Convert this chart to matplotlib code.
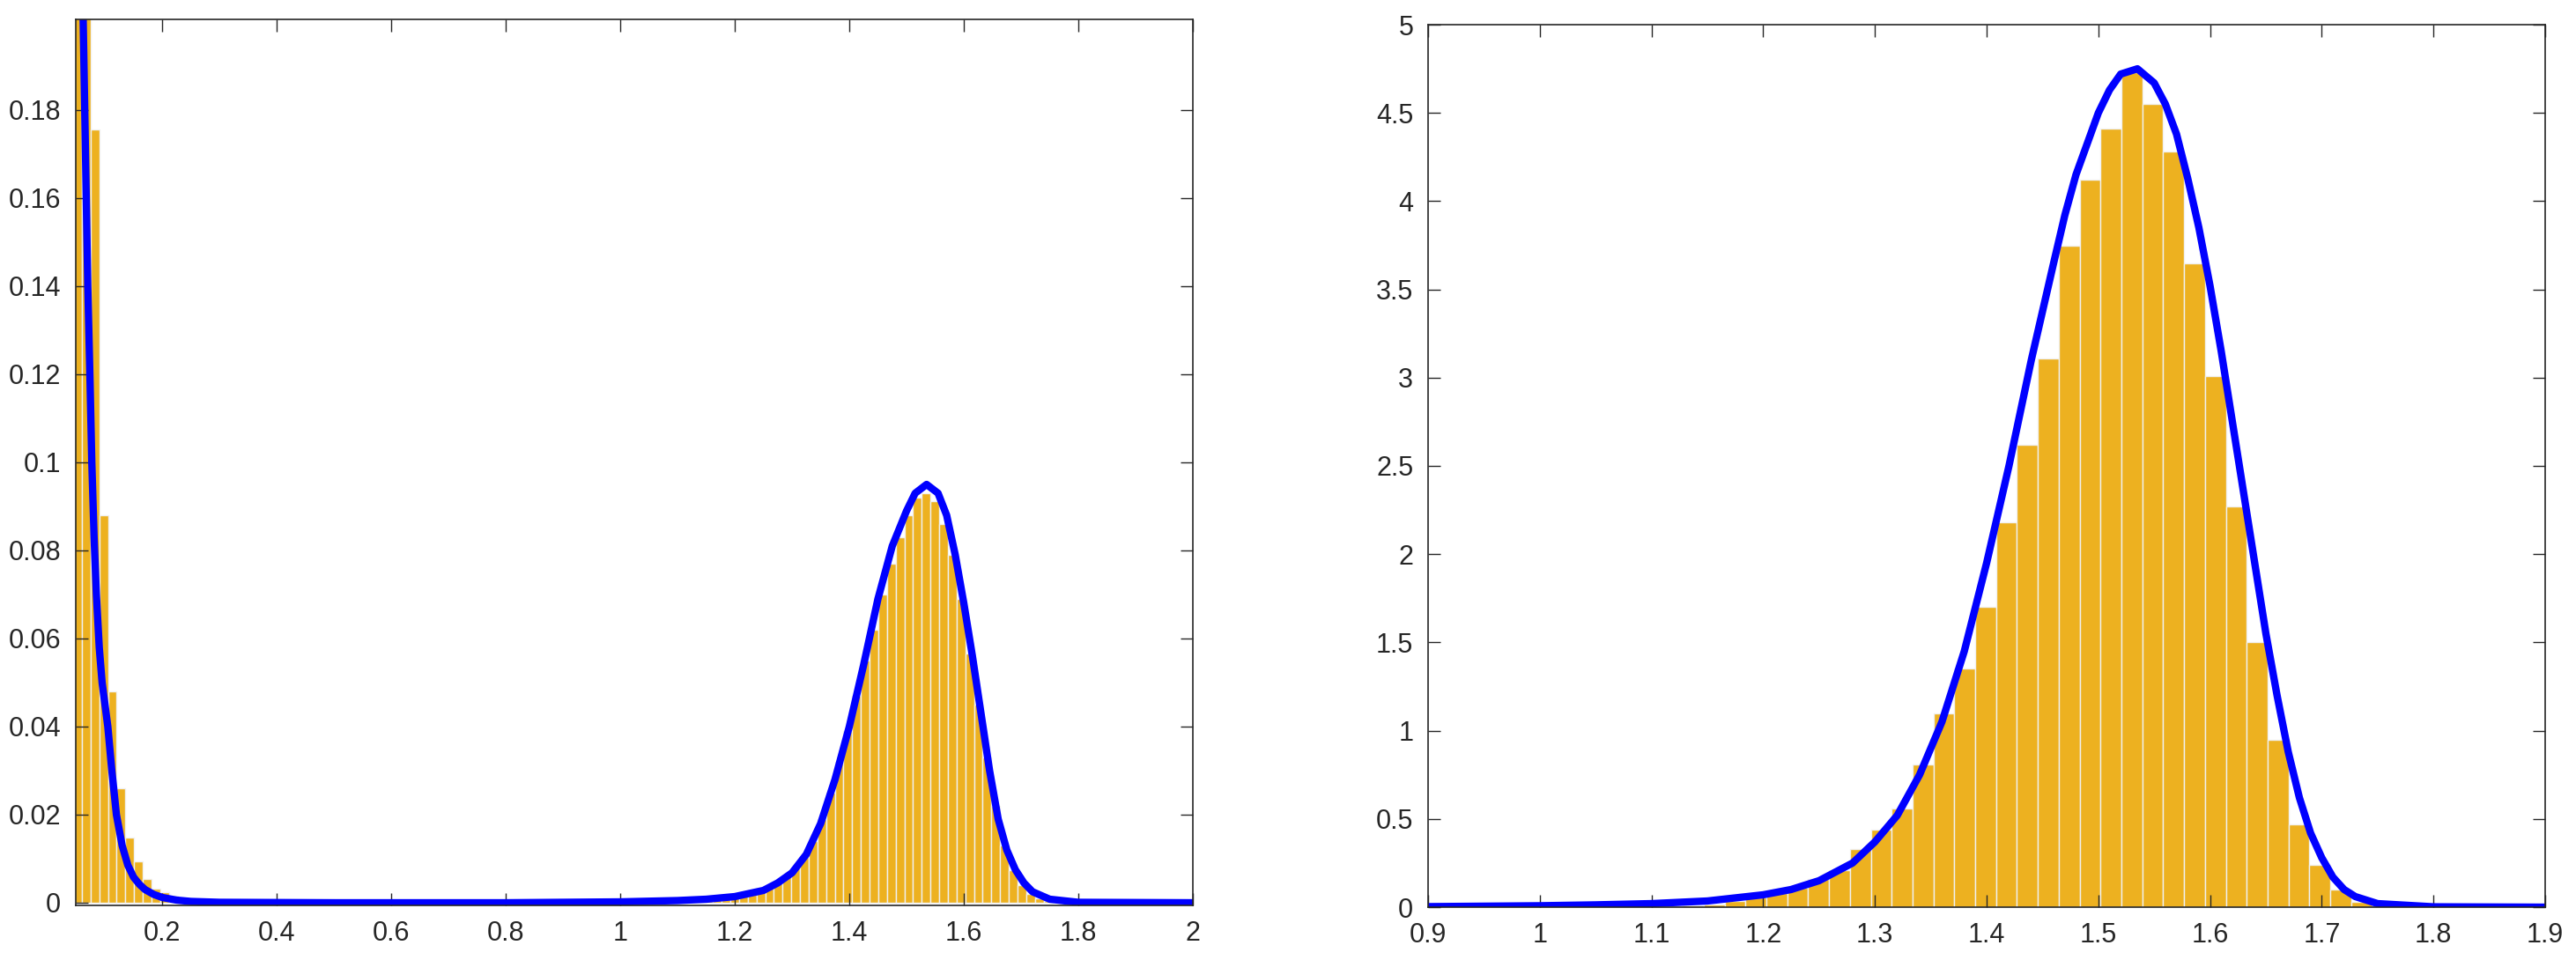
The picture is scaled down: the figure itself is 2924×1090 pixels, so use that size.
import matplotlib
matplotlib.use("Agg")
import matplotlib.pyplot as plt
import numpy as np
from matplotlib.ticker import FuncFormatter

# ---- Left panel data ----
left_bin_width = 0.0152
left_low_edges = [0.0445, 0.0597, 0.0749, 0.0901, 0.1053, 0.1205, 0.1357, 0.1509,
                  0.1661, 0.1813, 0.1965, 0.2117, 0.2269, 0.2421, 0.2573]
left_low_heights = [0.25, 0.23, 0.1757, 0.088, 0.048, 0.026, 0.0149, 0.0095,
                    0.0055, 0.0033, 0.0025, 0.0017, 0.001, 0.0006, 0.0003]
left_peak_start = 1.0858
left_peak_heights = [0.0004, 0.0005, 0.0006, 0.0007, 0.0008, 0.001, 0.0012, 0.0015,
                     0.0019, 0.0024, 0.003, 0.0038, 0.0048, 0.0062, 0.008, 0.0105,
                     0.014, 0.019, 0.025, 0.032, 0.039, 0.047, 0.055, 0.062, 0.070,
                     0.077, 0.083, 0.088, 0.092, 0.093, 0.0912, 0.086, 0.079, 0.069,
                     0.0566, 0.045, 0.033, 0.022, 0.013, 0.0075, 0.004, 0.002, 0.001, 0.0004]
left_curve_x = [0.05, 0.056, 0.062, 0.066, 0.07, 0.074, 0.077, 0.081, 0.085, 0.09, 0.095,
                0.1, 0.105, 0.112, 0.12, 0.13, 0.14, 0.15, 0.16, 0.17, 0.185, 0.2, 0.225,
                0.25, 0.3, 0.5, 0.8, 1.0, 1.1, 1.15, 1.2, 1.25, 1.275, 1.3, 1.325, 1.35,
                1.375, 1.4, 1.425, 1.45, 1.475, 1.5, 1.515, 1.535, 1.555, 1.57, 1.585,
                1.6, 1.615, 1.63, 1.645, 1.66, 1.675, 1.69, 1.705, 1.72, 1.75, 1.8, 2.0]
left_curve_y = [0.3, 0.25, 0.2, 0.17, 0.14, 0.118, 0.1, 0.083, 0.07, 0.058, 0.05,
                0.045, 0.04, 0.03, 0.02, 0.013, 0.0085, 0.0058, 0.0042, 0.003, 0.0019,
                0.0012, 0.0006, 0.0003, 0.0001, 0.0, 0.0, 0.0002, 0.0005, 0.0008, 0.0014,
                0.0028, 0.0045, 0.0068, 0.011, 0.018, 0.028, 0.04, 0.054, 0.069, 0.081,
                0.089, 0.093, 0.095, 0.093, 0.088, 0.079, 0.068, 0.056, 0.043, 0.03,
                0.019, 0.012, 0.0075, 0.0045, 0.0025, 0.0008, 0.0001, 0.0]

# ---- Right panel data ----
right_bin_width = 0.0187
right_start = 1.128
right_heights = [0.008, 0.017, 0.035, 0.055, 0.08, 0.11, 0.16, 0.21, 0.33, 0.44, 0.56,
                 0.81, 1.10, 1.35, 1.70, 2.18, 2.62, 3.11, 3.75, 4.12, 4.41, 4.73,
                 4.55, 4.28, 3.65, 3.01, 2.27, 1.50, 0.95, 0.47, 0.24, 0.10, 0.03, 0.01]
right_curve_x = [0.9, 1.0, 1.05, 1.1, 1.15, 1.2, 1.225, 1.25, 1.28, 1.3, 1.32, 1.34, 1.36,
                 1.38, 1.39, 1.40, 1.42, 1.43, 1.44, 1.46, 1.47, 1.48, 1.50, 1.51, 1.52,
                 1.535, 1.55, 1.56, 1.57, 1.58, 1.59, 1.60, 1.61, 1.62, 1.63, 1.64, 1.65,
                 1.66, 1.67, 1.68, 1.69, 1.70, 1.71, 1.72, 1.73, 1.75, 1.8, 1.9]
right_curve_y = [0.003, 0.008, 0.013, 0.02, 0.035, 0.07, 0.1, 0.15, 0.25, 0.37, 0.52,
                 0.75, 1.05, 1.45, 1.7, 1.95, 2.5, 2.8, 3.1, 3.65, 3.92, 4.15, 4.5, 4.63,
                 4.72, 4.75, 4.67, 4.55, 4.38, 4.13, 3.85, 3.52, 3.15, 2.75, 2.35, 1.95,
                 1.55, 1.2, 0.88, 0.62, 0.42, 0.28, 0.17, 0.1, 0.06, 0.02, 0.002, 0.0]

BAR = "#EDB120"
TXT = "#262626"
plt.rcParams['font.family'] = ['Liberation Sans', 'DejaVu Sans']

fig = plt.figure(figsize=(29.24, 10.90), dpi=100)
W, H = 2924, 1090
axL = fig.add_axes([86/W, (H-1028)/H, (1354-86)/W, (1028-22)/H])
axR = fig.add_axes([1621/W, (H-1030)/H, (2889-1621)/W, (1030-28)/H])

def style(ax):
    for s in ax.spines.values():
        s.set_color(TXT); s.set_linewidth(1.2)
    ax.tick_params(direction='in', top=True, right=True, length=10, width=1,
                   colors=TXT, labelsize=22, pad=12)
    ax.xaxis.set_major_formatter(FuncFormatter(lambda v, p: f"{v:g}"))
    ax.yaxis.set_major_formatter(FuncFormatter(lambda v, p: f"{v:g}"))

# Left
px = [left_peak_start + i*left_bin_width for i in range(len(left_peak_heights))]
axL.bar(list(left_low_edges) + px, list(left_low_heights) + left_peak_heights,
        width=left_bin_width, align='edge', color=BAR, edgecolor="#F0F0F0", linewidth=1.0)
axL.plot(left_curve_x, left_curve_y, color=(0, 0, 1), lw=6, solid_joinstyle='round')
axL.set_xlim(0.049, 2.0)
axL.set_ylim(-0.0006, 0.2006)
axL.set_xticks(np.arange(0.2, 2.01, 0.2))
axL.set_yticks(np.arange(0, 0.181, 0.02))
style(axL)

# Right
rx = [right_start + i*right_bin_width for i in range(len(right_heights))]
axR.bar(rx, right_heights, width=right_bin_width, align='edge',
        color=BAR, edgecolor="#F0F0F0", linewidth=1.0)
axR.plot(right_curve_x, right_curve_y, color=(0, 0, 1), lw=6, solid_joinstyle='round')
axR.set_xlim(0.9, 1.9)
axR.set_ylim(0, 5)
axR.set_xticks(np.arange(0.9, 1.901, 0.1))
axR.set_yticks(np.arange(0, 5.01, 0.5))
style(axR)

fig.savefig("out.png", dpi=100)
